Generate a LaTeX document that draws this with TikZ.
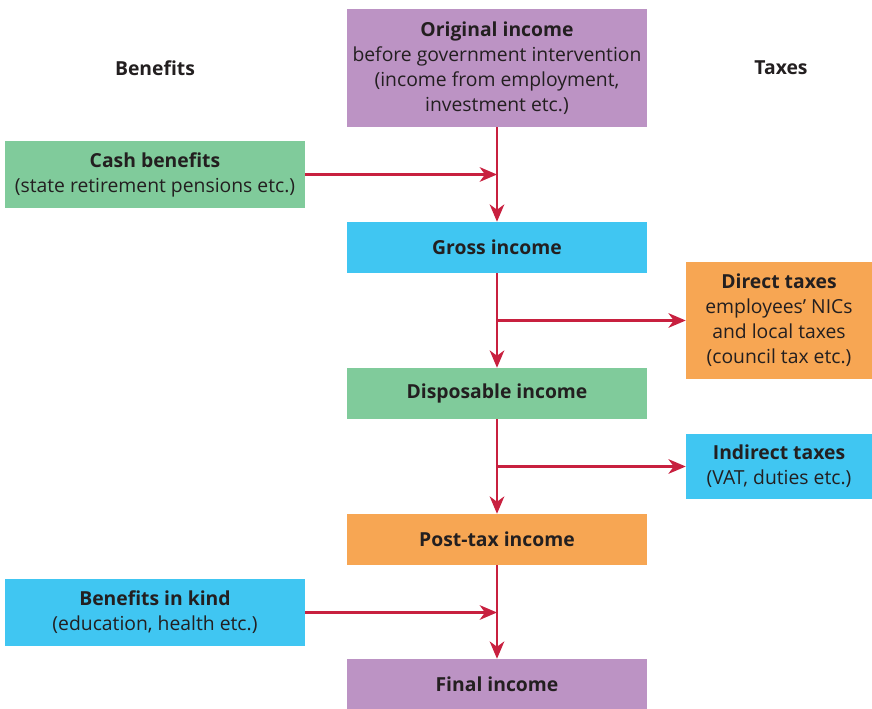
\documentclass[tikz,border=0pt]{standalone}
\usepackage{fontspec}
\setmainfont{Open Sans}
\usepackage{tikz}
\usetikzlibrary{positioning,arrows.meta}

\definecolor{boxpurple}{HTML}{BC93C4}
\definecolor{boxgreen}{HTML}{80CB9B}
\definecolor{boxblue}{HTML}{40C6F2}
\definecolor{boxorange}{HTML}{F7A653}
\definecolor{flowred}{HTML}{C8203F}
\definecolor{inktext}{HTML}{231F20}

\tikzset{
    box/.style={inner sep=0pt, align=center, text=inktext,
        font=\fontsize{14.5}{18.75}\selectfont},
    mainbox/.style={box, minimum width=225pt, minimum height=38.25pt},
    sidebox/.style={box, minimum width=225pt, minimum height=50.25pt},
    taxbox/.style={box, minimum width=139.5pt},
    flow/.style={draw=flowred, line width=1.6pt,
        -{Stealth[length=13pt, width=11pt, inset=4pt]}},
    heading/.style={text=inktext, font=\fontsize{14.5}{18.75}\selectfont\bfseries}
}

\begin{document}
\begin{tikzpicture}[x=0.75pt, y=-0.75pt]
    \useasboundingbox (0,0) rectangle (872,709);

    % centre column
    \node[mainbox, fill=boxpurple, minimum height=88.5pt] (orig) at (497,68)
        {\textbf{Original income}\\before government intervention\\(income from employment,\\investment etc.)};
    \node[mainbox, fill=boxblue] (gross) at (497,247.5) {\textbf{Gross income}};
    \node[mainbox, fill=boxgreen] (disp) at (497,393.5) {\textbf{Disposable income}};
    \node[mainbox, fill=boxorange] (post) at (497,539.5) {\textbf{Post-tax income}};
    \node[mainbox, fill=boxpurple, minimum height=37.5pt] (final) at (497,684) {\textbf{Final income}};

    % benefits on the left
    \node[heading] (benlabel) at (155,68) {Benefits};
    \node[sidebox, fill=boxgreen] (cash) at (155,174.5)
        {\textbf{Cash benefits}\\(state retirement pensions etc.)};
    \node[sidebox, fill=boxblue] (kind) at (155,612.5)
        {\textbf{Benefits in kind}\\(education, health etc.)};

    % taxes on the right
    \node[heading] (taxlabel) at (781,68) {Taxes};
    \node[taxbox, fill=boxorange, minimum height=87.75pt] (direct) at (779,320.5)
        {\textbf{Direct taxes}\\employees’ NICs\\and local taxes\\(council tax etc.)};
    \node[taxbox, fill=boxblue, minimum height=48.75pt] (indirect) at (779,466.5)
        {\textbf{Indirect taxes}\\(VAT, duties etc.)};

    % flows
    \draw[flow] (orig.south) -- (gross.north);
    \draw[flow] (gross.south) -- (disp.north);
    \draw[flow] (disp.south) -- (post.north);
    \draw[flow] (post.south) -- (final.north);

    \draw[flow] (cash.east) -- (cash.east -| orig.south);
    \draw[flow] (direct.west -| gross.south) -- (direct.west);
    \draw[flow] (indirect.west -| disp.south) -- (indirect.west);
    \draw[flow] (kind.east) -- (kind.east -| post.south);
\end{tikzpicture}
\end{document}
